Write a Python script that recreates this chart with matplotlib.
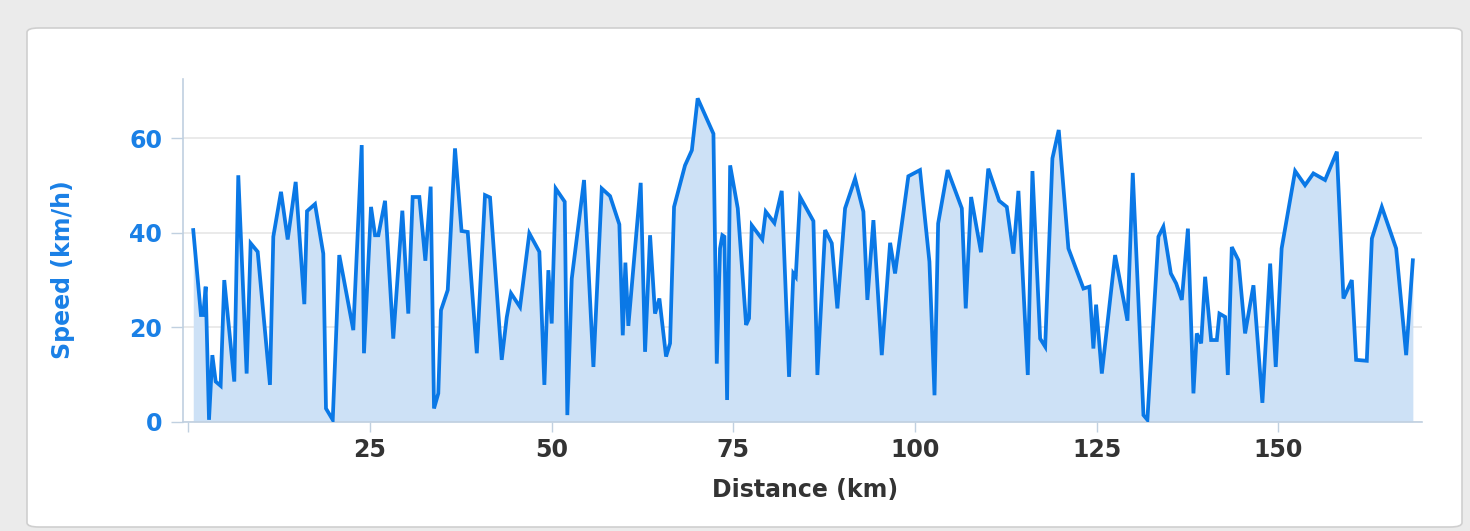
import matplotlib
matplotlib.use("Agg")
import matplotlib.pyplot as plt
from matplotlib.patches import FancyBboxPatch

# distance along the route (km) and speed (km/h)
distance_km = [
    0.67, 1.73, 2.05, 2.38, 2.84, 3.3, 3.76, 4.44, 4.94, 6.32, 6.87, 8.02, 8.57, 9.54,
    11.23, 11.69, 12.75, 13.67, 14.77, 15.96, 16.33, 17.43, 18.57, 18.94, 19.87, 20.77,
    22.7, 23.86, 24.17, 25.14, 25.69, 26.15, 27.07, 28.2, 29.45, 30.27, 30.87, 31.79,
    32.62, 33.35, 33.81, 34.4, 34.77, 35.7, 36.7, 37.6, 38.45, 39.7, 40.83, 41.52,
    43.13, 43.82, 44.41, 45.65, 46.93, 48.31, 49.0, 49.55, 50.01, 50.56, 51.8, 52.16,
    52.77, 54.46, 55.75, 56.9, 58.04, 59.32, 59.79, 60.15, 60.56, 62.26, 62.86, 63.55,
    64.23, 64.83, 65.75, 66.3, 66.85, 68.36, 69.3, 70.1, 72.27, 72.73, 73.18, 73.5,
    73.78, 74.15, 74.57, 75.62, 76.77, 77.17, 77.55, 79.0, 79.47, 80.66, 81.67, 82.68,
    83.27, 83.6, 84.2, 86.03, 86.58, 87.64, 88.56, 89.33, 90.39, 91.77, 92.91, 93.46,
    94.29, 95.44, 96.59, 97.27, 99.1, 100.7, 102.0, 102.7, 103.2, 104.5, 106.46, 107.0,
    107.74, 109.1, 110.1, 111.6, 112.65, 113.56, 114.25, 115.54, 116.18, 117.24, 117.93,
    118.93, 119.8, 121.13, 123.2, 124.02, 124.57, 124.94, 125.73, 127.56, 129.26, 129.99,
    131.46, 132.0, 133.52, 134.2, 135.23, 135.96, 136.74, 137.58, 138.34, 138.8, 139.4,
    139.95, 140.77, 141.56, 141.92, 142.7, 143.07, 143.62, 144.53, 145.45, 146.6, 147.83,
    148.9, 149.67, 150.48, 152.34, 153.7, 154.85, 156.46, 158.08, 158.99, 160.14, 160.73,
    162.2, 162.9, 164.27, 166.24, 167.62, 168.54,
]
speed_kmh = [
    40.6, 22.6, 22.6, 28.6, 0.4, 14.1, 8.5, 7.6, 30.0, 8.5, 52.2, 10.2, 37.8, 36.0,
    7.8, 39.2, 48.7, 38.6, 50.8, 24.9, 44.6, 46.1, 35.6, 2.8, 0.4, 35.3,
    19.4, 58.6, 14.5, 45.5, 39.5, 39.5, 46.8, 17.6, 44.7, 22.9, 47.6, 47.6,
    34.1, 49.8, 2.8, 6.0, 23.6, 27.9, 57.9, 40.4, 40.2, 14.5, 48.0, 47.5,
    13.1, 22.1, 27.2, 24.3, 39.9, 36.0, 7.8, 32.1, 20.8, 49.4, 46.6, 1.4,
    30.3, 51.2, 11.6, 49.4, 47.8, 41.8, 18.3, 33.7, 20.3, 50.6, 14.8, 39.5,
    22.9, 26.1, 13.8, 16.6, 45.5, 54.3, 57.5, 68.5, 61.0, 12.3, 36.7, 39.5,
    39.2, 4.6, 54.3, 45.2, 20.5, 21.9, 41.6, 38.6, 44.5, 42.1, 48.9, 9.5,
    31.4, 30.7, 47.6, 42.5, 9.9, 40.6, 37.8, 24.0, 45.2, 51.5, 44.5, 25.8,
    42.7, 14.1, 37.9, 31.4, 52.0, 53.3, 33.9, 5.6, 42.0, 53.3, 45.2, 24.0,
    47.6, 35.9, 53.6, 46.8, 45.5, 35.6, 48.9, 9.9, 53.1, 17.6, 15.9,
    55.8, 61.8, 36.7, 28.2, 28.6, 15.5, 24.8, 10.2, 35.3, 21.4, 52.7,
    1.4, 0.4, 39.2, 41.3, 31.4, 29.3, 25.8, 40.9, 6.0, 18.7, 16.6,
    30.7, 17.3, 17.3, 22.9, 22.2, 9.9, 37.0, 34.2, 18.7, 28.9, 4.0,
    33.5, 11.6, 36.7, 53.1, 50.1, 52.6, 51.2, 57.2, 26.1, 30.0, 13.1,
    12.9, 38.8, 45.5, 36.7, 14.1, 34.2,
]
x_ticks = [0, 25, 50, 75, 100, 125, 150]
x_tick_labels = ["", "25", "50", "75", "100", "125", "150"]
y_ticks = [0, 20, 40, 60]

line_color = "#0a78e6"
fill_color = "#cde1f6"
label_blue = "#1a80e6"

fig = plt.figure(figsize=(14.7, 5.31), dpi=100)
fig.patch.set_facecolor("#ebebeb")

# white rounded panel behind the chart
W, H = 1470, 531
panel = FancyBboxPatch((27 / W, 1 - 527 / H), (1462 - 27) / W, (527 - 28) / H,
                       boxstyle="round,pad=0,rounding_size=0.008",
                       transform=fig.transFigure, facecolor="white",
                       edgecolor="#cfcfcf", linewidth=1.2, zorder=-10)
fig.add_artist(panel)

ax = fig.add_axes([183 / W, 1 - 421.7 / H, (1422 - 183) / W, (421.7 - 79) / H])
ax.set_zorder(5)
ax.set_facecolor("none")

ax.fill_between(distance_km, speed_kmh, 0, color=fill_color, linewidth=0, zorder=2)
ax.plot(distance_km, speed_kmh, color=line_color, linewidth=2.7,
        solid_joinstyle="miter", zorder=3)

ax.set_xlim(-0.74, 169.8)
ax.set_ylim(0, 72.6)

ax.set_yticks(y_ticks)
ax.set_yticklabels([str(v) for v in y_ticks])
ax.set_xticks(x_ticks)
ax.set_xticklabels(x_tick_labels)

for t in ax.get_yticklabels():
    t.set_color(label_blue)
    t.set_fontweight("bold")
    t.set_fontsize(17)
for t in ax.get_xticklabels():
    t.set_color("#333333")
    t.set_fontweight("bold")
    t.set_fontsize(17)

ax.tick_params(axis="y", length=9, width=1, color="#c0d0e0", pad=6)
ax.tick_params(axis="x", length=7, width=1, color="#c0d0e0", pad=5)

ax.grid(axis="y", color="#e6e6e6", linewidth=1.2, zorder=1)
ax.set_axisbelow(True)

for side in ["top", "right"]:
    ax.spines[side].set_visible(False)
ax.spines["left"].set_color("#c0d0e0")
ax.spines["bottom"].set_color("#c0d0e0")
ax.spines["left"].set_linewidth(1.2)
ax.spines["bottom"].set_linewidth(1.2)

fig.text(63 / W, 1 - 270 / H, "Speed (km/h)", rotation=90, color=label_blue,
         fontsize=17, fontweight="bold", ha="center", va="center")
fig.text(805 / W, 1 - 490 / H, "Distance (km)", color="#333333",
         fontsize=17, fontweight="bold", ha="center", va="center")

fig.savefig("out.png", dpi=100, facecolor=fig.get_facecolor())
